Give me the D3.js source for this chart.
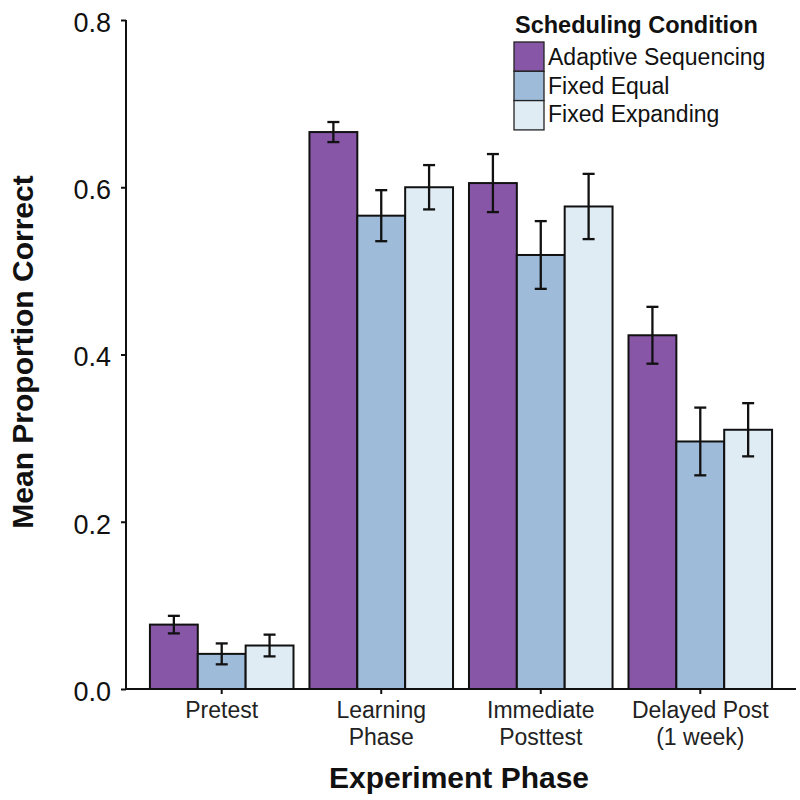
<!DOCTYPE html>
<html><head><meta charset="utf-8">
<script src="https://cdn.jsdelivr.net/npm/d3@7"></script>
<style>body{margin:0;background:#fff}svg{display:block}</style>
</head><body>
<svg id="c" width="800" height="800"></svg>
<script>
const phases = ["Pretest", "Learning\nPhase", "Immediate\nPosttest", "Delayed Post\n(1 week)"];
const conditions = ["Adaptive Sequencing", "Fixed Equal", "Fixed Expanding"];
const colors = ["#8856a7", "#9ebcda", "#e0ecf4"];
const adaptiveMean = [0.077, 0.666, 0.605, 0.423];
const adaptiveErr  = [0.0105, 0.012, 0.0347, 0.034];
const equalMean    = [0.042, 0.566, 0.519, 0.296];
const equalErr     = [0.0125, 0.0305, 0.0405, 0.0405];
const expandMean   = [0.052, 0.600, 0.577, 0.310];
const expandErr    = [0.013, 0.0265, 0.039, 0.0318];
const yTicks = [0.0, 0.2, 0.4, 0.6, 0.8];

const means = [adaptiveMean, equalMean, expandMean];
const errs = [adaptiveErr, equalErr, expandErr];

const svg = d3.select("#c");
const L = 126, R = 796, T = 20, B = 689;
const font = "'Liberation Sans', Arial, sans-serif";

const x = d3.scaleBand().domain(phases).range([L, R]).paddingInner(0.1).paddingOuter(0.15);
const y = d3.scaleLinear().domain([0, 0.8]).range([B, T]);
const xs = d3.scaleBand().domain(conditions).range([0, x.bandwidth()]);

const data = [];
phases.forEach((p, i) => conditions.forEach((c, j) => data.push({p, c, j, m: means[j][i], e: errs[j][i]})));

const g = svg.append("g");
g.selectAll("rect.bar").data(data).enter().append("rect")
  .attr("x", d => x(d.p) + xs(d.c))
  .attr("y", d => y(d.m))
  .attr("width", xs.bandwidth())
  .attr("height", d => y(0) - y(d.m))
  .attr("fill", d => colors[d.j])
  .attr("stroke", "#111").attr("stroke-width", 2);

const eb = g.selectAll("g.eb").data(data).enter().append("g")
  .attr("stroke", "#111").attr("stroke-width", 2.3);
const cx = d => x(d.p) + xs(d.c) + xs.bandwidth()/2;
eb.append("line").attr("x1", cx).attr("x2", cx).attr("y1", d => y(d.m + d.e)).attr("y2", d => y(d.m - d.e));
eb.append("line").attr("x1", d => cx(d) - 6).attr("x2", d => cx(d) + 6).attr("y1", d => y(d.m + d.e)).attr("y2", d => y(d.m + d.e));
eb.append("line").attr("x1", d => cx(d) - 6).attr("x2", d => cx(d) + 6).attr("y1", d => y(d.m - d.e)).attr("y2", d => y(d.m - d.e));

const yAxis = svg.append("g").attr("transform", `translate(${L},0)`)
  .call(d3.axisLeft(y).tickValues(yTicks).tickFormat(d3.format(".1f")).tickSize(5).tickPadding(10));
yAxis.select(".domain").attr("stroke", "#111").attr("stroke-width", 2).attr("d", `M0,${T}V${B}`);
yAxis.selectAll(".tick line").attr("stroke", "#111").attr("stroke-width", 2);
yAxis.selectAll(".tick text").attr("font-family", font).attr("font-size", 27).attr("fill", "#111").attr("dy", "0.42em");

const xAxis = svg.append("g").attr("transform", `translate(0,${B})`)
  .call(d3.axisBottom(x).tickSize(5).tickFormat(""));
xAxis.select(".domain").attr("stroke", "#111").attr("stroke-width", 2).attr("d", `M${L},0H${R}`);
xAxis.selectAll(".tick line").attr("stroke", "#111").attr("stroke-width", 2);
xAxis.selectAll(".tick").each(function(d) {
  const t = d3.select(this).append("text").attr("fill", "#222")
    .attr("font-family", font).attr("font-size", 23).attr("text-anchor", "middle");
  d.split("\n").forEach((s, k) => t.append("tspan").attr("x", 0).attr("y", 29 + k * 27).text(s));
});

svg.append("text").attr("x", 459).attr("y", 788).attr("text-anchor", "middle")
  .attr("font-family", font).attr("font-weight", "bold").attr("font-size", 30).attr("fill", "#111")
  .text("Experiment Phase");
svg.append("text").attr("transform", `translate(33,352) rotate(-90)`).attr("text-anchor", "middle")
  .attr("font-family", font).attr("font-weight", "bold").attr("font-size", 30).attr("fill", "#111")
  .text("Mean Proportion Correct");

const lg = svg.append("g").attr("transform", "translate(514,0)");
lg.append("text").attr("x", 1).attr("y", 33).attr("font-family", font).attr("font-weight", "bold")
  .attr("font-size", 23.5).attr("fill", "#111").text("Scheduling Condition");
conditions.forEach((c, j) => {
  lg.append("rect").attr("x", 0).attr("y", 42 + j * 29.3).attr("width", 30).attr("height", 29.3)
    .attr("fill", colors[j]).attr("stroke", "#222").attr("stroke-width", 1.3);
  lg.append("text").attr("x", 34).attr("y", 65 + j * 28.7).attr("font-family", font)
    .attr("font-size", 23).attr("fill", "#111").text(c);
});
</script>
</body></html>
